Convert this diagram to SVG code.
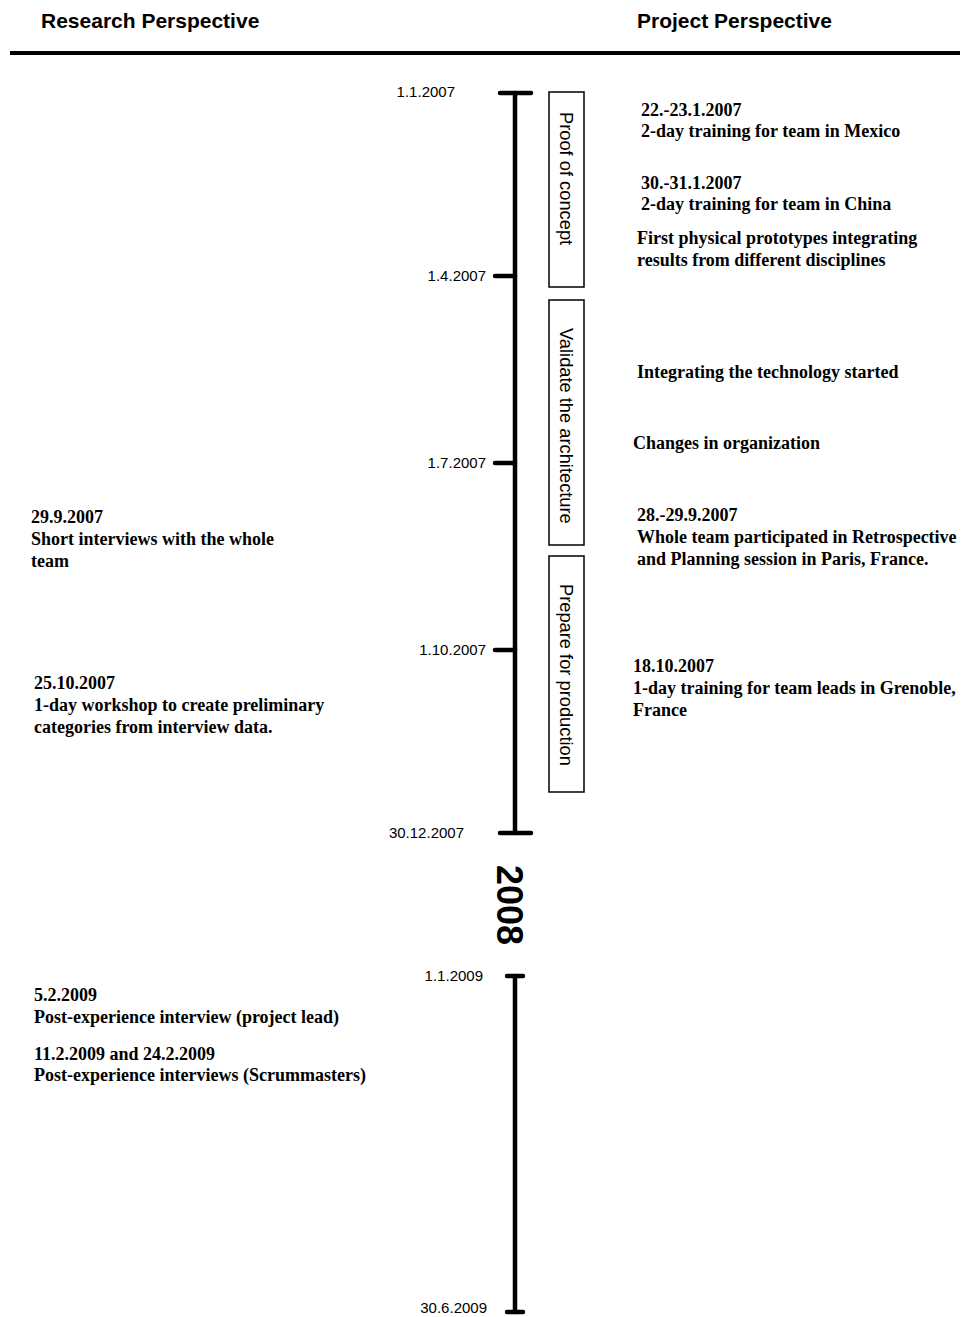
<svg xmlns="http://www.w3.org/2000/svg" width="963" height="1317" viewBox="0 0 963 1317">
  <style>
    .head { font-family: "Liberation Sans", Arial, sans-serif; font-weight: bold; font-size: 21px; fill: #000; }
    .date { font-family: "Liberation Sans", Arial, sans-serif; font-size: 15px; fill: #000; text-anchor: end; }
    .ev { font-family: "Liberation Serif", "Times New Roman", serif; font-weight: bold; font-size: 18px; fill: #000; }
    .phase { font-family: "Liberation Sans", Arial, sans-serif; font-size: 18.3px; fill: #000; }
    .year { font-family: "Liberation Sans", Arial, sans-serif; font-weight: bold; font-size: 36px; fill: #000; }
    .axis { stroke: #000; stroke-width: 4.5; stroke-linecap: round; fill: none; }
    .box { fill: #fff; stroke: #000; stroke-width: 1.5; }
  </style>

  <!-- column headers -->
  <g id="headers">
    <text class="head" x="41" y="28">Research Perspective</text>
    <text class="head" x="637" y="28">Project Perspective</text>
    <line x1="10" y1="53" x2="960" y2="53" stroke="#000" stroke-width="4"/>
  </g>

  <!-- timeline axes and ticks -->
  <g id="connectors">
    <line class="axis" x1="515" y1="93" x2="515" y2="833"/>
    <line class="axis" x1="500" y1="93" x2="531" y2="93"/>
    <line class="axis" x1="495" y1="276" x2="515" y2="276"/>
    <line class="axis" x1="495" y1="463" x2="515" y2="463"/>
    <line class="axis" x1="495" y1="650" x2="515" y2="650"/>
    <line class="axis" x1="500" y1="833" x2="531" y2="833"/>

    <line class="axis" x1="515" y1="976" x2="515" y2="1312"/>
    <line class="axis" x1="507" y1="976" x2="523" y2="976"/>
    <line class="axis" x1="507" y1="1312" x2="523" y2="1312"/>
  </g>

  <!-- date labels -->
  <g id="dates">
    <text class="date" x="455" y="97">1.1.2007</text>
    <text class="date" x="486" y="281">1.4.2007</text>
    <text class="date" x="486" y="468">1.7.2007</text>
    <text class="date" x="486" y="655">1.10.2007</text>
    <text class="date" x="464" y="838">30.12.2007</text>
    <text class="date" x="483" y="981">1.1.2009</text>
    <text class="date" x="487" y="1313">30.6.2009</text>
  </g>

  <!-- year gap marker -->
  <g id="year-2008">
    <text class="year" transform="translate(497,865) rotate(90)">2008</text>
  </g>

  <!-- project phases -->
  <g id="phase-proof">
    <rect class="box" x="549" y="92" width="35" height="195"/>
    <text class="phase" transform="translate(560,112) rotate(90)">Proof of concept</text>
  </g>
  <g id="phase-validate">
    <rect class="box" x="549" y="300" width="35" height="245"/>
    <text class="phase" transform="translate(560,328) rotate(90)">Validate the architecture</text>
  </g>
  <g id="phase-prepare">
    <rect class="box" x="549" y="556" width="35" height="236"/>
    <text class="phase" transform="translate(560,584) rotate(90)">Prepare for production</text>
  </g>

  <!-- project events -->
  <g id="ev-mexico">
    <text class="ev" x="641" y="116">22.-23.1.2007</text>
    <text class="ev" x="641" y="137">2-day training for team in Mexico</text>
  </g>
  <g id="ev-china">
    <text class="ev" x="641" y="189">30.-31.1.2007</text>
    <text class="ev" x="641" y="210">2-day training for team in China</text>
  </g>
  <g id="ev-prototypes">
    <text class="ev" x="637" y="244">First physical prototypes integrating</text>
    <text class="ev" x="637" y="266">results from different disciplines</text>
  </g>
  <g id="ev-integrating">
    <text class="ev" x="637" y="378">Integrating the technology started</text>
  </g>
  <g id="ev-organization">
    <text class="ev" x="633" y="449">Changes in organization</text>
  </g>
  <g id="ev-paris">
    <text class="ev" x="637" y="521">28.-29.9.2007</text>
    <text class="ev" x="637" y="543">Whole team participated in Retrospective</text>
    <text class="ev" x="637" y="565">and Planning session in Paris, France.</text>
  </g>
  <g id="ev-grenoble">
    <text class="ev" x="633" y="672">18.10.2007</text>
    <text class="ev" x="633" y="694">1-day training for team leads in Grenoble,</text>
    <text class="ev" x="633" y="716">France</text>
  </g>

  <!-- research events -->
  <g id="res-interviews">
    <text class="ev" x="31" y="523">29.9.2007</text>
    <text class="ev" x="31" y="545">Short interviews with the whole</text>
    <text class="ev" x="31" y="567">team</text>
  </g>
  <g id="res-workshop">
    <text class="ev" x="34" y="689">25.10.2007</text>
    <text class="ev" x="34" y="711">1-day workshop to create preliminary</text>
    <text class="ev" x="34" y="733">categories from interview data.</text>
  </g>
  <g id="res-lead">
    <text class="ev" x="34" y="1001">5.2.2009</text>
    <text class="ev" x="34" y="1023">Post-experience interview (project lead)</text>
  </g>
  <g id="res-scrummasters">
    <text class="ev" x="34" y="1060">11.2.2009 and 24.2.2009</text>
    <text class="ev" x="34" y="1081">Post-experience interviews (Scrummasters)</text>
  </g>
</svg>
